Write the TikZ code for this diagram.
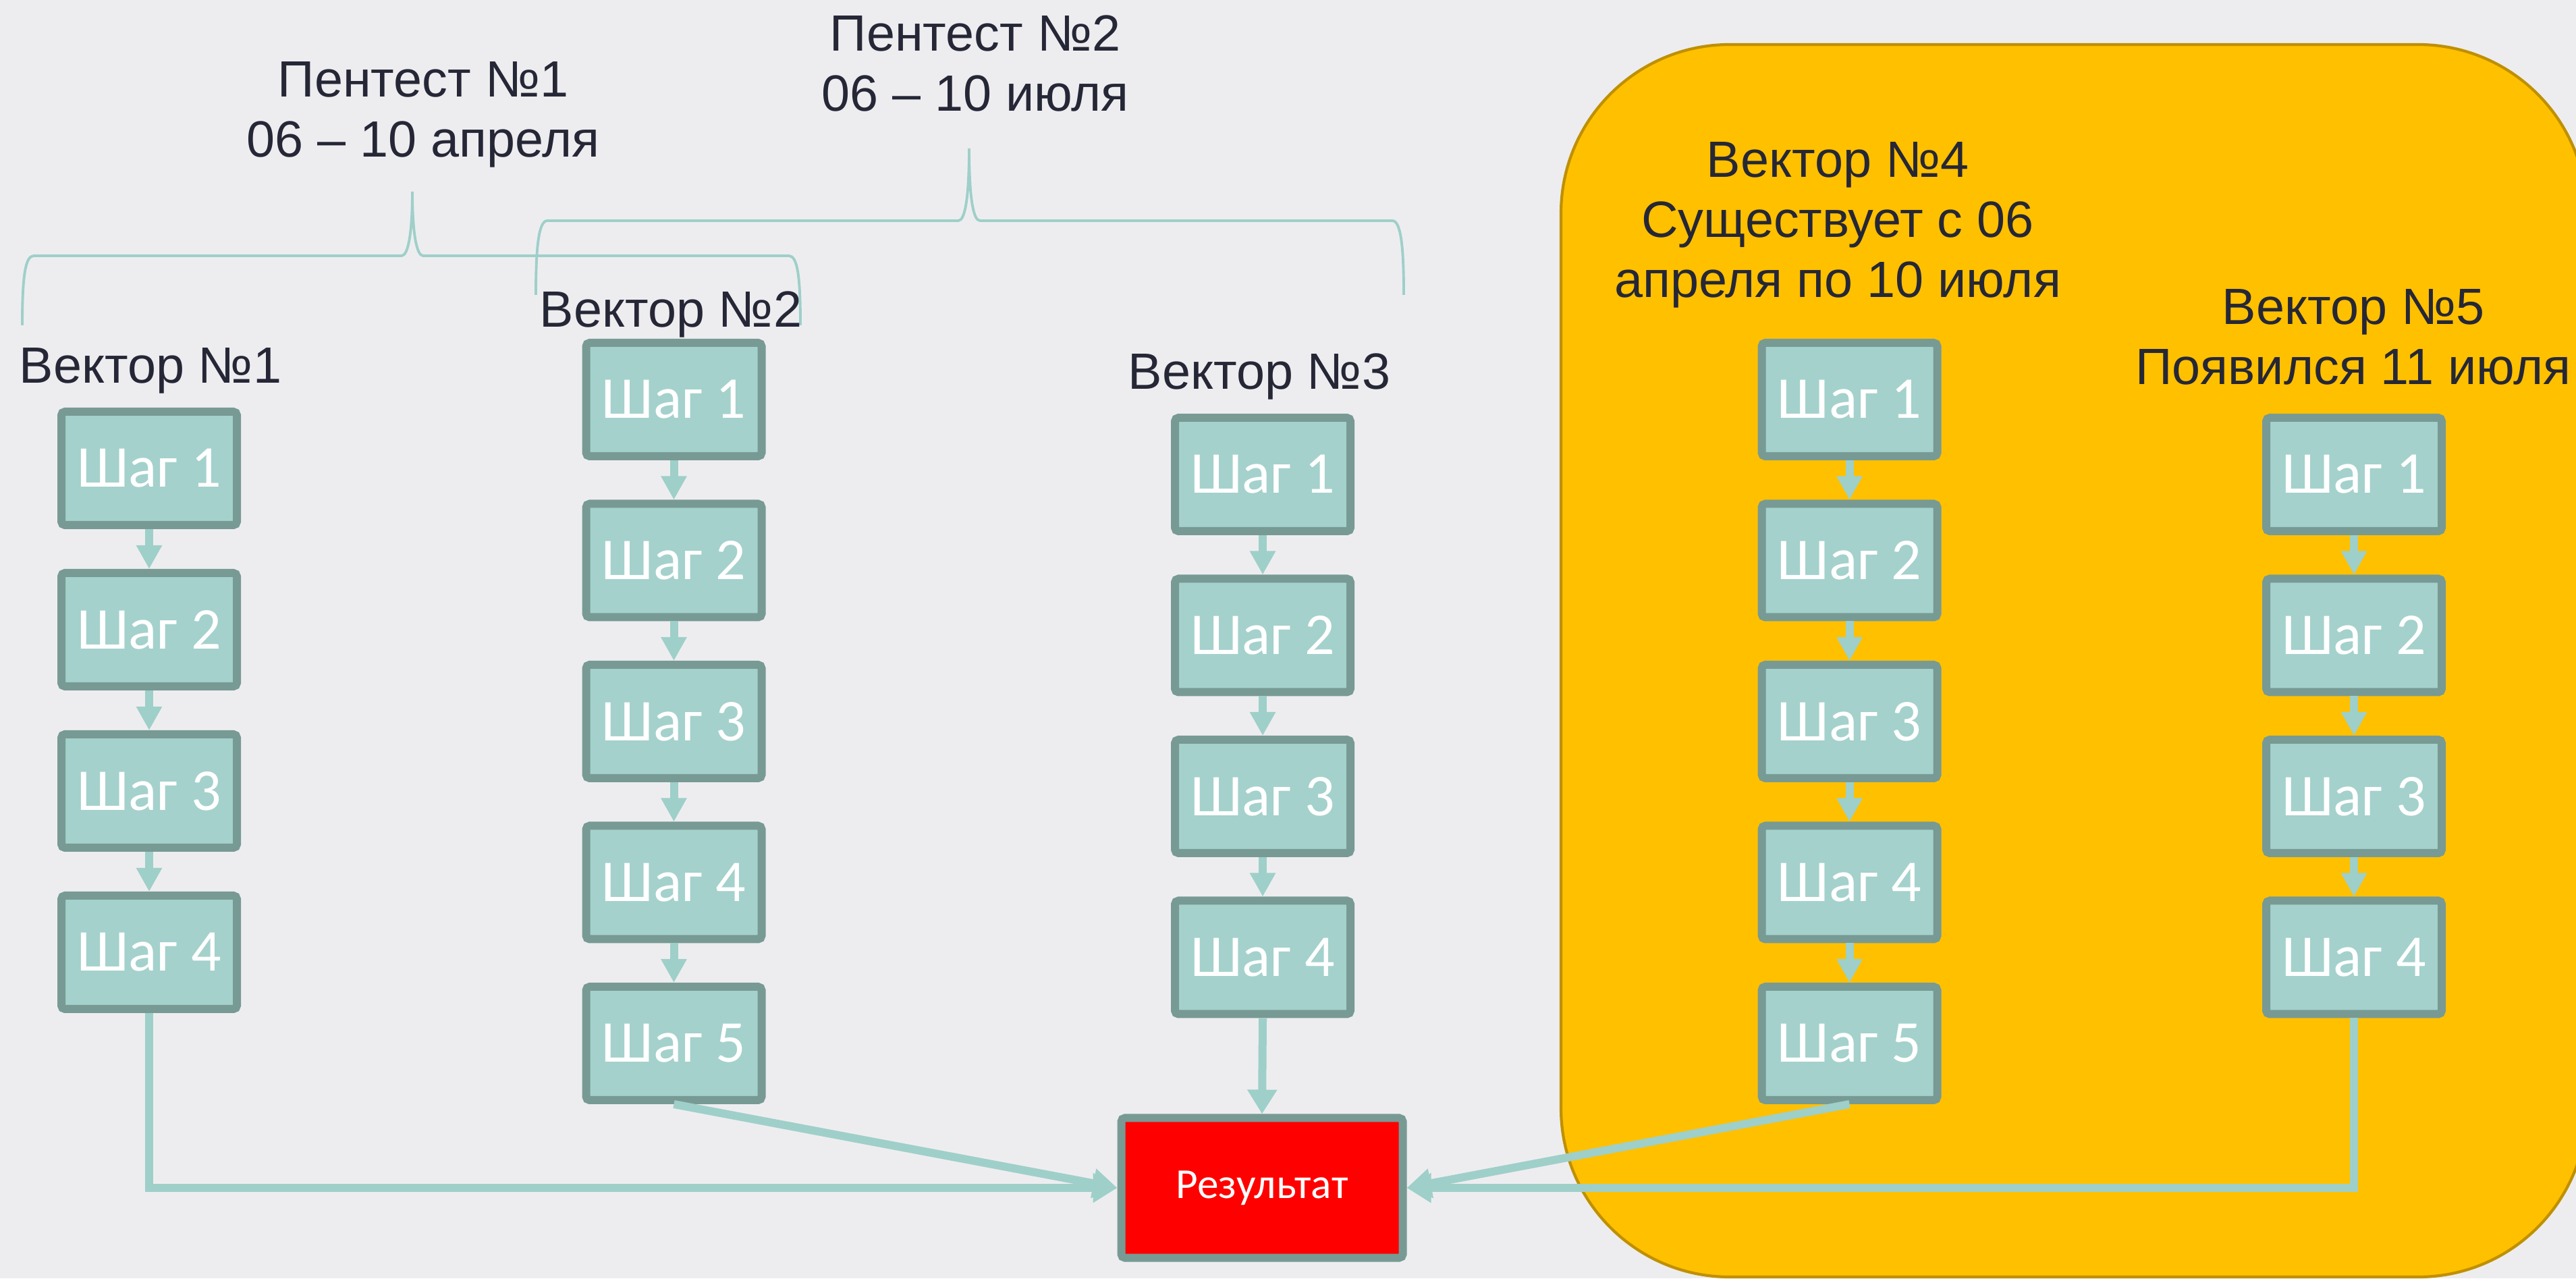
\documentclass[tikz,border=0pt]{standalone}
\usepackage{fontspec}
\setmainfont{Liberation Sans}
\newfontfamily\stepfont{Carlito}
\usetikzlibrary{arrows.meta}

\definecolor{bgcol}{RGB}{237,237,240}
\definecolor{inkcol}{RGB}{38,39,54}
\definecolor{stepfill}{RGB}{164,209,204}
\definecolor{stepdraw}{RGB}{120,154,148}
\definecolor{flowcol}{RGB}{159,207,201}
\definecolor{zonefill}{RGB}{255,192,0}
\definecolor{zonedraw}{RGB}{191,144,0}

% curly bracket over a group of vectors: (left:tip:right)(end y:line y:tip y)
\def\topbrace(#1:#2:#3)(#4:#5:#6){\draw[periodbrace] (#1,#4) .. controls (#1,#4+0.7) and (#1+0.04,#5) .. (#1+0.17,#5) -- (#2-0.16,#5) .. controls (#2-0.06,#5) and (#2,#5+0.35) .. (#2,#6) .. controls (#2,#5+0.35) and (#2+0.06,#5) .. (#2+0.16,#5) -- (#3-0.17,#5) .. controls (#3-0.04,#5) and (#3,#4+0.7) .. (#3,#4);}

\tikzset{
	periodbrace/.style={draw=flowcol, line width=1.1pt},
	stepbox/.style={draw=stepdraw, fill=stepfill, line width=0.12cm, rounded corners=1.5pt,
		minimum width=2.6cm, minimum height=1.68cm, inner sep=0, text=white,
		font=\stepfont\fontsize{25}{30}\selectfont},
	resultbox/.style={stepbox, fill=red, minimum width=4.17cm, minimum height=2.07cm,
		font=\stepfont\fontsize{18}{22}\selectfont},
	vectitle/.style={anchor=north, align=center, inner sep=0, text=inkcol,
		font=\fontsize{21.5}{25.3}\selectfont},
	steparrow/.style={draw=flowcol, line width=0.12cm, -{Triangle[length=0.35cm,width=0.36cm]}},
	flow/.style={draw=flowcol, line width=0.12cm, -{Triangle[length=0.36cm,width=0.42cm]}}
}

\begin{document}
\begin{tikzpicture}
		%%%%% BACKGROUND %%%%%
		\fill[bgcol] (0,0) rectangle (38.17,18.94);
		\useasboundingbox (0,0) rectangle (38.17,18.94);
		\clip (0,0) rectangle (38.17,18.94);
		
		% vectors that live between the two tests
		\draw[fill=zonefill, draw=zonedraw, line width=1.2pt, rounded corners=2.5cm] (23.13,0.02) rectangle (38.33,18.28);
		
		%%%%% PERIODS %%%%%
		\topbrace(0.33:6.11:11.86)(14.12:15.15:16.10)
		\topbrace(7.94:14.36:20.80)(14.57:15.67:16.74)
		
		\node[vectitle] (pt1) at (6.27, 18.03) {Пентест №1\\06 – 10 апреля};
		\node[vectitle] (pt2) at (14.45, 18.72) {Пентест №2\\06 – 10 июля};
		
		%%%%% TITLES %%%%%
		\node[vectitle] (t1) at (2.23, 13.79) {Вектор №1};
		\node[vectitle] (t2) at (9.94, 14.63) {Вектор №2};
		\node[vectitle] (t3) at (18.66, 13.71) {Вектор №3};
		\node[vectitle] (t4) at (27.23, 16.84) {Вектор №4\\Существует с 06\\апреля по 10 июля};
		\node[vectitle] (t5) at (34.87, 14.66) {Вектор №5\\Появился 11 июля};
		
		%%%%% STEPS %%%%%
		\node[stepbox] (s11) at (2.21, 12.00) {Шаг 1};
		\node[stepbox] (s12) at (2.21, 9.61) {Шаг 2};
		\node[stepbox] (s13) at (2.21, 7.22) {Шаг 3};
		\node[stepbox] (s14) at (2.21, 4.83) {Шаг 4};
		
		\node[stepbox] (s21) at (9.985, 13.02) {Шаг 1};
		\node[stepbox] (s22) at (9.985, 10.635) {Шаг 2};
		\node[stepbox] (s23) at (9.985, 8.25) {Шаг 3};
		\node[stepbox] (s24) at (9.985, 5.865) {Шаг 4};
		\node[stepbox] (s25) at (9.985, 3.48) {Шаг 5};
		
		\node[stepbox] (s31) at (18.71, 11.91) {Шаг 1};
		\node[stepbox] (s32) at (18.71, 9.525) {Шаг 2};
		\node[stepbox] (s33) at (18.71, 7.14) {Шаг 3};
		\node[stepbox] (s34) at (18.71, 4.755) {Шаг 4};
		
		\node[stepbox] (s41) at (27.405, 13.02) {Шаг 1};
		\node[stepbox] (s42) at (27.405, 10.635) {Шаг 2};
		\node[stepbox] (s43) at (27.405, 8.25) {Шаг 3};
		\node[stepbox] (s44) at (27.405, 5.865) {Шаг 4};
		\node[stepbox] (s45) at (27.405, 3.48) {Шаг 5};
		
		\node[stepbox] (s51) at (34.88, 11.91) {Шаг 1};
		\node[stepbox] (s52) at (34.88, 9.525) {Шаг 2};
		\node[stepbox] (s53) at (34.88, 7.14) {Шаг 3};
		\node[stepbox] (s54) at (34.88, 4.755) {Шаг 4};
		
		\node[resultbox] (res) at (18.70, 1.34) {Результат};
		
		%%%%% ARROWS %%%%%
		\draw[steparrow] (s11) -- (s12);
		\draw[steparrow] (s12) -- (s13);
		\draw[steparrow] (s13) -- (s14);
		
		\draw[steparrow] (s21) -- (s22);
		\draw[steparrow] (s22) -- (s23);
		\draw[steparrow] (s23) -- (s24);
		\draw[steparrow] (s24) -- (s25);
		
		\draw[steparrow] (s31) -- (s32);
		\draw[steparrow] (s32) -- (s33);
		\draw[steparrow] (s33) -- (s34);
		
		\draw[steparrow] (s41) -- (s42);
		\draw[steparrow] (s42) -- (s43);
		\draw[steparrow] (s43) -- (s44);
		\draw[steparrow] (s44) -- (s45);
		
		\draw[steparrow] (s51) -- (s52);
		\draw[steparrow] (s52) -- (s53);
		\draw[steparrow] (s53) -- (s54);
		
		\draw[flow] (s14.south) |- (res.west);
		\draw[flow] (s25.south) -- (res.west);
		\draw[flow] (s34.south) -- (res.north);
		\draw[flow] (s45.south) -- (res.east);
		\draw[flow] (s54.south) |- (res.east);
		%%%%% END %%%%%
\end{tikzpicture}
\end{document}
